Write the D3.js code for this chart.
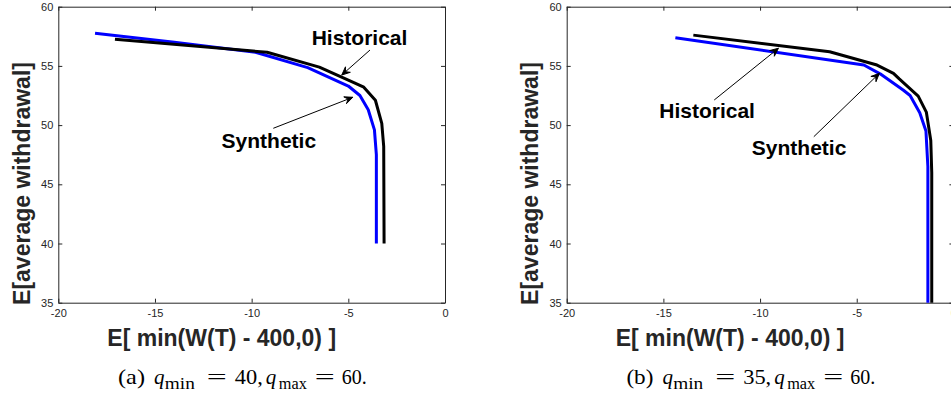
<html>
<head>
<meta charset="utf-8">
<script src="https://cdnjs.cloudflare.com/ajax/libs/d3/7.8.5/d3.min.js"></script>
<style>
  body { margin: 0; background: #fff; }
  text { font-family: "Liberation Sans", Arial, sans-serif; }
</style>
</head>
<body>
<script>
// ---- data ----
const xTicks = [-20, -15, -10, -5, 0];
const yTicks = [35, 40, 45, 50, 55, 60];

// panel (a): q_min = 40, q_max = 60
const histA = [[-17.07,57.25],[-9.2,56.15],[-6.5,54.9],[-5.0,53.8],[-4.2,53.2],[-3.6,52.1],[-3.27,50.15],[-3.17,48.2],[-3.15,40]];
const synA  = [[-18.1,57.75],[-14,57.0],[-9.8,56.15],[-7.1,54.85],[-5.0,53.3],[-4.4,52.5],[-3.97,51.3],[-3.65,49.6],[-3.55,47.5],[-3.55,40]];

// panel (b): q_min = 35, q_max = 60
const histB = [[-13.45,57.6],[-6.4,56.2],[-4.0,55.1],[-3.1,54.37],[-2.8,53.9],[-1.82,52.45],[-1.4,51.1],[-1.17,48.7],[-1.12,46],[-1.12,35]];
const synB  = [[-14.38,57.38],[-4.63,55.08],[-3.79,54.33],[-2.6,52.96],[-2.24,52.5],[-1.74,51.05],[-1.42,49.5],[-1.32,46.5],[-1.32,35]];

// annotation labels + arrows (data coords: text [x,y], arrow tail, arrow tip)
const notesA = [
  {label: "Historical", at: [-4.42, 56.77], from: [-3.88, 56.34], to: [-5.34, 54.23]},
  {label: "Synthetic",  at: [-9.11, 48.04], from: [-8.88, 49.73], to: [-4.77, 52.35]}
];
const notesB = [
  {label: "Historical", at: [-12.74, 50.57], from: [-12.37, 52.12], to: [-9.05, 56.49]},
  {label: "Synthetic",  at: [-7.98, 47.47],  from: [-7.22, 49.02],  to: [-3.83, 54.37]}
];

const xTitle = "E[ min(W(T) - 400,0) ]";
const yTitle = "E[average withdrawal]";

const W = 951, H = 395;
const svg = d3.select("body").append("svg")
  .attr("width", W).attr("height", H)
  .attr("viewBox", `0 0 ${W} ${H}`);

function drawPanel(left, hist, syn, notes, tag, qmin) {
  const pw = 386.7, top = 6.7, bottom = 302.7;
  const x = d3.scaleLinear().domain([-20, 0]).range([left, left + pw]);
  const y = d3.scaleLinear().domain([35, 60]).range([bottom, top]);
  const g = svg.append("g");
  const axisColor = "#262626";
  const fmt = d => String(d);

  // box + inward ticks on all four sides
  const ax = (a, tr, labels) => {
    const s = g.append("g").attr("transform", tr).call(a);
    s.select(".domain").attr("stroke", axisColor).attr("stroke-width", 1);
    s.selectAll(".tick line").attr("stroke", axisColor);
    s.selectAll("text").attr("fill", axisColor).style("font-size", "11px");
    if (!labels) s.selectAll("text").remove();
    return s;
  };
  ax(d3.axisBottom(x).tickValues(xTicks).tickFormat(fmt).tickSizeInner(-4).tickSizeOuter(0).tickPadding(7), `translate(0,${bottom})`, true);
  ax(d3.axisTop(x).tickValues(xTicks).tickSizeInner(-4).tickSizeOuter(0), `translate(0,${top})`, false);
  ax(d3.axisLeft(y).tickValues(yTicks).tickFormat(fmt).tickSizeInner(-4).tickSizeOuter(0).tickPadding(5), `translate(${left},0)`, true);
  ax(d3.axisRight(y).tickValues(yTicks).tickSizeInner(-4).tickSizeOuter(0), `translate(${left + pw},0)`, false);

  const line = d3.line().x(d => x(d[0])).y(d => y(d[1]));
  g.append("path").datum(syn).attr("d", line)
    .attr("fill", "none").attr("stroke", "#0000ff").attr("stroke-width", 3).attr("stroke-linejoin", "round");
  g.append("path").datum(hist).attr("d", line)
    .attr("fill", "none").attr("stroke", "#000").attr("stroke-width", 3).attr("stroke-linejoin", "round");

  // annotations
  notes.forEach(n => {
    g.append("text").attr("x", x(n.at[0])).attr("y", y(n.at[1]))
      .attr("text-anchor", "middle").attr("font-weight", "bold")
      .style("font-size", "21px").attr("fill", "#000").text(n.label);
    const x1 = x(n.from[0]), y1 = y(n.from[1]), x2 = x(n.to[0]), y2 = y(n.to[1]);
    g.append("line").attr("x1", x1).attr("y1", y1).attr("x2", x2).attr("y2", y2)
      .attr("stroke", "#000").attr("stroke-width", 1);
    const ang = Math.atan2(y2 - y1, x2 - x1), L = 9, sp = 0.42;
    const p1 = [x2 - L * Math.cos(ang - sp), y2 - L * Math.sin(ang - sp)];
    const p2 = [x2 - L * Math.cos(ang + sp), y2 - L * Math.sin(ang + sp)];
    const pm = [x2 - L * 0.55 * Math.cos(ang), y2 - L * 0.55 * Math.sin(ang)];
    g.append("path").attr("d", `M${p1}L${x2},${y2}L${p2}L${pm}Z`)
      .attr("fill", "#000").attr("stroke", "#000").attr("stroke-width", 1).attr("stroke-linejoin", "miter");
  });

  // axis titles
  g.append("text").attr("x", left + 163.4).attr("y", 346)
    .attr("text-anchor", "middle").attr("font-weight", "bold")
    .style("font-size", "23px").attr("fill", axisColor).text(xTitle);
  g.append("text").attr("transform", `translate(${left - 28.5},${183.5}) rotate(-90)`)
    .attr("text-anchor", "middle").attr("font-weight", "bold")
    .style("font-size", "23px").attr("fill", axisColor).text(yTitle);

  // caption, laid out piece by piece like the LaTeX subcaption
  const cap = g.append("g").attr("transform", `translate(${left},384)`).attr("fill", "#000");
  const piece = (dx, txt, opt = {}) => {
    const t = cap.append("text").attr("x", dx).attr("y", opt.sub ? 4.5 : 0)
      .style("font-size", opt.sub ? "16px" : "21px")
      .attr("font-style", opt.it ? "italic" : "normal")
      .style("font-family", "'Liberation Serif', 'DejaVu Serif', serif")
      .text(txt);
    if (opt.len) t.attr("textLength", opt.len).attr("lengthAdjust", "spacingAndGlyphs");
  };
  piece(59.7, `(${tag})`, {len: 27});
  piece(95.7, "q", {it: true});
  piece(106.5, "min", {sub: true, len: 30});
  piece(148.5, "=", {len: 20});
  piece(176.5, `${qmin},`, {len: 28});
  piece(207.5, "q", {it: true});
  piece(220.5, "max", {sub: true, len: 28});
  piece(256.5, "=", {len: 20});
  piece(283.5, "60.", {len: 25});
}

drawPanel(58.3, histA, synA, notesA, "a", 40);
drawPanel(566.7, histB, synB, notesB, "b", 35);
</script>
</body>
</html>
